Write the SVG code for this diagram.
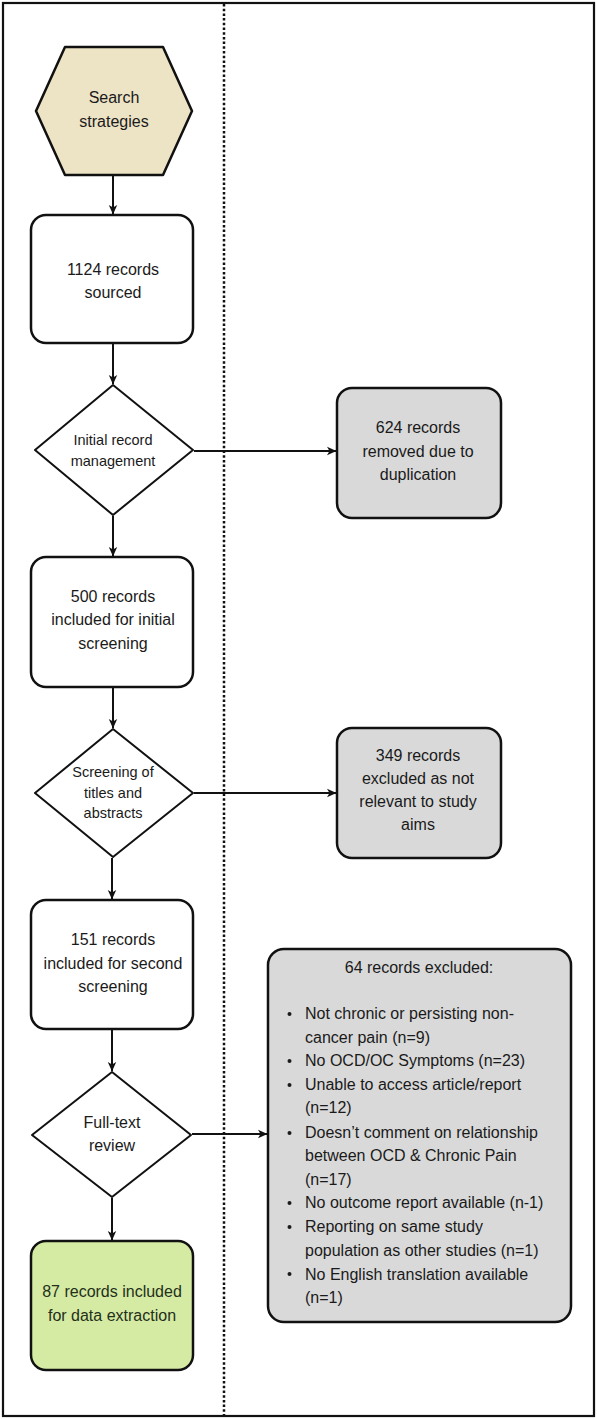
<svg xmlns="http://www.w3.org/2000/svg" width="597" height="1419" viewBox="0 0 597 1419">
<defs>
<marker id="ah" markerUnits="userSpaceOnUse" markerWidth="10" markerHeight="10" viewBox="0 0 10 10" refX="9" refY="5" orient="auto">
<path d="M0,0.8 L9.5,5 L0,9.2 L2.5,5 Z" fill="#111"/>
</marker>
</defs>
<style>
.t{font-family:"Liberation Sans",Arial,sans-serif;fill:#1a1a1a;text-anchor:middle;font-size:16px}
.s{font-size:14.5px}
.l{font-family:"Liberation Sans",Arial,sans-serif;fill:#1a1a1a;font-size:16px}
.box{fill:#fff;stroke:#111;stroke-width:2.5}
.grey{fill:#d9d9d9;stroke:#111;stroke-width:2.5}
.dia{fill:#fff;stroke:#111;stroke-width:2;stroke-linejoin:round}
.con{stroke:#111;stroke-width:2;fill:none;marker-end:url(#ah)}
</style>
<rect x="0" y="0" width="597" height="1419" fill="#fff"/>
<rect x="3" y="3" width="591" height="1413" fill="none" stroke="#111" stroke-width="2.2"/>
<line x1="224" y1="4" x2="224" y2="1415" stroke="#111" stroke-width="2.5" stroke-dasharray="2.5 2.2"/>

<g id="search">
<polygon points="36,111 65,47 163,47 192,111 163,175 65,175" fill="#ede3c5" stroke="#111" stroke-width="2.5" stroke-linejoin="round"/>
<text class="t" x="114" y="103">Search</text>
<text class="t" x="114" y="127">strategies</text>
</g>

<g id="sourced">
<rect class="box" x="31" y="215" width="162" height="128" rx="15"/>
<text class="t" x="113" y="275">1124 records</text>
<text class="t" x="113" y="298">sourced</text>
</g>

<g id="initial-mgmt">
<polygon class="dia" points="113,385 193,450 113,515 35,450"/>
<text class="t s" x="113" y="445">Initial record</text>
<text class="t s" x="113" y="466">management</text>
</g>

<g id="removed">
<rect class="grey" x="337" y="388" width="164" height="130" rx="15"/>
<text class="t" x="418" y="433">624 records</text>
<text class="t" x="418" y="457">removed due to</text>
<text class="t" x="418" y="480">duplication</text>
</g>

<g id="initial-screening">
<rect class="box" x="31" y="557" width="162" height="130" rx="15"/>
<text class="t" x="113" y="602">500 records</text>
<text class="t" x="113" y="625">included for initial</text>
<text class="t" x="113" y="649">screening</text>
</g>

<g id="title-screen">
<polygon class="dia" points="113,729 193,793 113,857 35,793"/>
<text class="t s" x="113" y="777">Screening of</text>
<text class="t s" x="113" y="798">titles and</text>
<text class="t s" x="113" y="818">abstracts</text>
</g>

<g id="not-relevant">
<rect class="grey" x="337" y="728" width="164" height="130" rx="15"/>
<text class="t" x="418" y="761">349 records</text>
<text class="t" x="418" y="784">excluded as not</text>
<text class="t" x="418" y="807">relevant to study</text>
<text class="t" x="418" y="830">aims</text>
</g>

<g id="second-screening">
<rect class="box" x="31" y="900" width="162" height="129" rx="15"/>
<text class="t" x="113" y="945">151 records</text>
<text class="t" x="113" y="969">included for second</text>
<text class="t" x="113" y="992">screening</text>
</g>

<g id="full-text">
<polygon class="dia" points="112,1072 191,1135 112,1197 32,1135"/>
<text class="t" x="112" y="1128">Full-text</text>
<text class="t" x="112" y="1151">review</text>
</g>

<g id="included">
<rect x="31" y="1241" width="162" height="129" rx="15" fill="#d5eba4" stroke="#111" stroke-width="2.5"/>
<text class="t" x="112" y="1297" style="fill:#24301a">87 records included</text>
<text class="t" x="112" y="1321" style="fill:#24301a">for data extraction</text>
</g>

<g id="excluded-list">
<rect class="grey" x="268" y="949" width="303" height="373" rx="16"/>
<text class="t" x="419" y="973">64 records excluded:</text>
<g fill="#1a1a1a">
<circle cx="289.5" cy="1014" r="2"/>
<circle cx="289.5" cy="1061" r="2"/>
<circle cx="289.5" cy="1085" r="2"/>
<circle cx="289.5" cy="1133" r="2"/>
<circle cx="289.5" cy="1203" r="2"/>
<circle cx="289.5" cy="1227" r="2"/>
<circle cx="289.5" cy="1274" r="2"/>
</g>
<text class="l" x="305" y="1019">Not chronic or persisting non-</text>
<text class="l" x="305" y="1043">cancer pain (n=9)</text>
<text class="l" x="305" y="1066">No OCD/OC Symptoms (n=23)</text>
<text class="l" x="305" y="1090">Unable to access article/report</text>
<text class="l" x="305" y="1113">(n=12)</text>
<text class="l" x="305" y="1138">Doesn’t comment on relationship</text>
<text class="l" x="305" y="1161">between OCD &amp; Chronic Pain</text>
<text class="l" x="305" y="1185">(n=17)</text>
<text class="l" x="305" y="1208">No outcome report available (n-1)</text>
<text class="l" x="305" y="1232">Reporting on same study</text>
<text class="l" x="305" y="1256">population as other studies (n=1)</text>
<text class="l" x="305" y="1280">No English translation available</text>
<text class="l" x="305" y="1303">(n=1)</text>
</g>

<g id="connectors">
<line class="con" x1="113" y1="176" x2="113" y2="214"/>
<line class="con" x1="113" y1="344" x2="113" y2="384"/>
<line class="con" x1="194" y1="451" x2="336" y2="451"/>
<line class="con" x1="113" y1="516" x2="113" y2="556"/>
<line class="con" x1="113" y1="688" x2="113" y2="728"/>
<line class="con" x1="194" y1="793" x2="336" y2="793"/>
<line class="con" x1="112" y1="858" x2="112" y2="899"/>
<line class="con" x1="112" y1="1030" x2="112" y2="1071"/>
<line class="con" x1="192" y1="1134" x2="267" y2="1134"/>
<line class="con" x1="112" y1="1198" x2="112" y2="1240"/>
</g>
</svg>
